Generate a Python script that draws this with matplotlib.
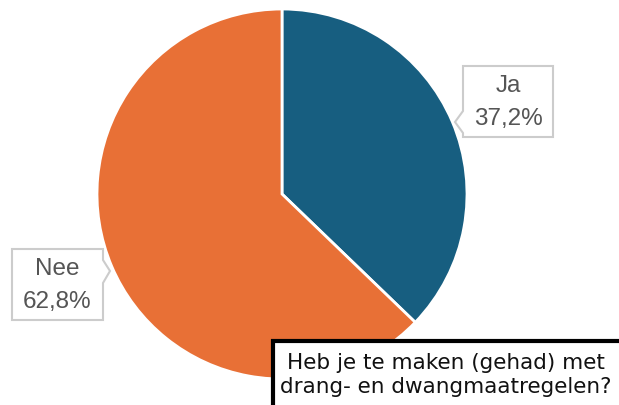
import matplotlib.pyplot as plt
from matplotlib.patches import Polygon, Rectangle

# data
labels = ['Ja', 'Nee']
values = [37.2, 62.8]
colors = ['#175e80', '#e87036']

W, H = 619, 406
fig = plt.figure(figsize=(W / 100, H / 100), dpi=100)

# pie axes: centre (282, 195), radius 185 px
cx, cy, r = 282, 195, 185
ax = fig.add_axes([(cx - r) / W, (H - cy - r) / H, 2 * r / W, 2 * r / H])
ax.pie(values, colors=colors, startangle=90, counterclock=False,
       wedgeprops=dict(edgecolor='white', linewidth=2))
ax.set_xlim(-1, 1)
ax.set_ylim(-1, 1)
ax.set_aspect('equal')
ax.axis('off')

# overlay in pixel coordinates for callouts and question box
ov = fig.add_axes([0, 0, 1, 1], zorder=5)
ov.set_xlim(0, W)
ov.set_ylim(H, 0)
ov.axis('off')
ov.patch.set_alpha(0)


def callout(x0, x1, y0, y1, side, tip, n0, n1, label, value):
    if side == 'left':
        pts = [(x0, y0), (x1, y0), (x1, y1), (x0, y1), (x0, n1), tip, (x0, n0)]
    else:
        pts = [(x0, y0), (x1, y0), (x1, n0), tip, (x1, n1), (x1, y1), (x0, y1)]
    ov.add_patch(Polygon(pts, closed=True, facecolor='white',
                         edgecolor='#cccccc', linewidth=1.5))
    xm = (x0 + x1) / 2
    ym = (y0 + y1) / 2
    ov.text(xm, ym - 16, label, ha='center', va='center', fontsize=17.5,
            color='#555555', family='Liberation Sans')
    ov.text(xm, ym + 17, f'{value:.1f}%'.replace('.', ','), ha='center',
            va='center', fontsize=17.5, color='#555555', family='Liberation Sans')


callout(463, 553, 67, 138, 'left', (455, 123), 112, 134, labels[0], values[0])
callout(12, 103, 250, 321, 'right', (110, 272), 261, 284, labels[1], values[1])

# question box
ov.add_patch(Rectangle((273, 342), 350, 70, facecolor='white',
                       edgecolor='black', linewidth=3))
ov.text(446, 375, 'Heb je te maken (gehad) met\ndrang- en dwangmaatregelen?',
        ha='center', va='center', fontsize=15.5, color='#111111',
        linespacing=1.25, family='DejaVu Sans')

fig.savefig('out.png', dpi=100)
